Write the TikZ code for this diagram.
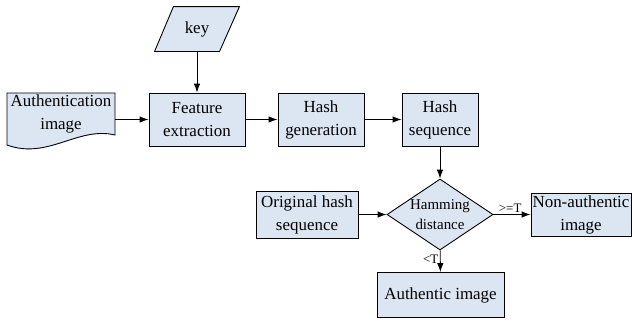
\documentclass[tikz,border=0pt]{standalone}
\usepackage{fontspec}
\setmainfont{Liberation Serif}
\usetikzlibrary{arrows.meta}
\usetikzlibrary{shapes.geometric}
\definecolor{boxblue}{RGB}{220,230,242}

\begin{document}
\begin{tikzpicture}[x=1bp,y=-1bp,>={Latex[length=9bp,width=6.5bp]},line width=0.9bp,
  block/.style={draw,fill=boxblue,align=center,inner sep=0pt,font=\fontsize{17}{23}\selectfont},
  edgelabel/.style={inner sep=1.5bp,font=\fontsize{13}{14}\selectfont},]
\useasboundingbox (0,0) rectangle (632,320);
%% document shape behind the first node
\draw [fill=boxblue] (7,93) -- (115,93) -- (115,135)
  .. controls (78,126) and (48,160) .. (7,145) -- cycle;
\node (node_auth) at (61,114) [draw=none,align=center,inner sep=0pt,minimum width=108bp,minimum height=42bp,font=\fontsize{17}{23}\selectfont] {Authentication\\image};
%% parallelogram behind the key node
\node (node_key) at (197,29) [draw=none,inner sep=0pt,minimum width=84bp,minimum height=44bp] {};
\draw [fill=boxblue] (node_key.south west) -- ++(65,0) -- (node_key.north east) -- ++(-66,0) -- cycle;
\node (node_keytext) at (node_key) [font=\fontsize{17}{23}\selectfont] {key};
  \node (node_feat) at (197,119.5) [block,minimum width=96bp,minimum height=53bp] {Feature\\extraction};
  \node (node_hgen) at (321,119.5) [block,minimum width=86bp,minimum height=53bp] {Hash\\generation};
  \node (node_hseq) at (440,119.5) [block,minimum width=76bp,minimum height=53bp] {Hash\\sequence};
  \node (node_ham) at (440,214.5) [block,shape=diamond,inner sep=-3bp,aspect=1.5,minimum width=106bp,minimum height=71bp,font=\fontsize{15}{20}\selectfont] {Hamming\\distance};
  \node (node_orig) at (307,214.5) [block,minimum width=102bp,minimum height=47bp] {Original hash\\sequence};
  \node (node_nonauth) at (581,214.5) [block,minimum width=100bp,minimum height=43bp] {Non-authentic\\image};
  \node (node_authc) at (440.5,295) [block,minimum width=127bp,minimum height=45bp] {Authentic image};
  \draw [black,->] (node_key) -- (node_feat);
  \draw [black,->] (node_auth.east |- node_feat.west) -- (node_feat.west);
  \draw [black,->] (node_feat) -- (node_hgen);
  \draw [black,->] (node_hgen) -- (node_hseq);
  \draw [black,->] (node_hseq) -- (node_ham);
  \draw [black,->] (node_orig) -- (node_ham);
  \draw [black,->] (node_ham) -- node [edgelabel,above,pos=0.45] {>=T} (node_nonauth);
  \draw [black,->] (node_ham) -- node [edgelabel,left,pos=0.4] {<T} (node_authc);
%
\end{tikzpicture}
\end{document}
